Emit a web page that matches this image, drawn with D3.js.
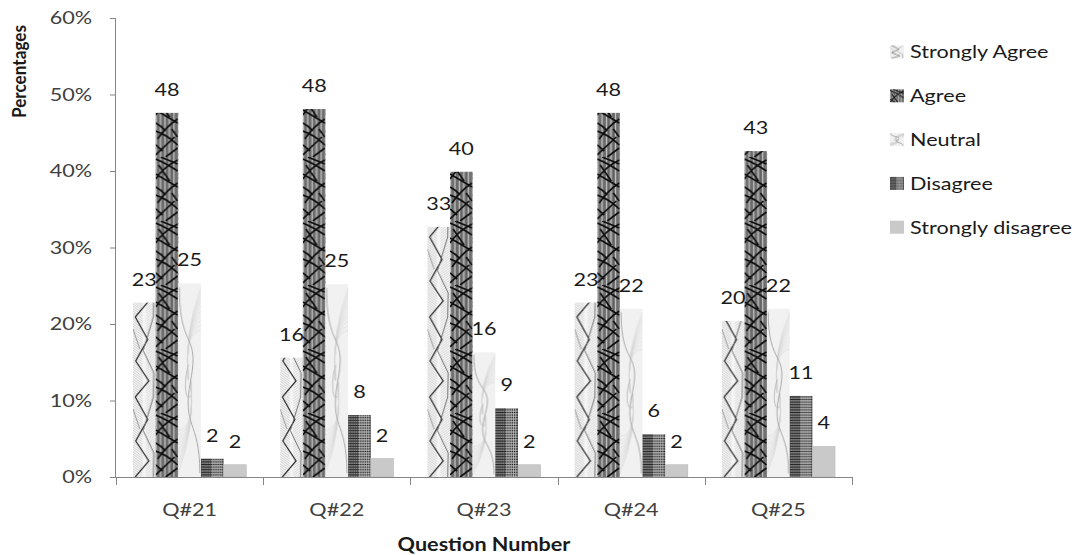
<!DOCTYPE html>
<html>
<head>
<meta charset="utf-8">
<script src="https://cdn.jsdelivr.net/npm/d3@7"></script>
<style>
  html, body { margin: 0; padding: 0; background: #fff; }
  svg { display: block; }
  text { font-family: Lato, "Open Sans", sans-serif; }
</style>
</head>
<body>
<svg id="chart" width="1084" height="555"></svg>
<script>
// ---- data ----
const categories = ["Q#21", "Q#22", "Q#23", "Q#24", "Q#25"];
const seriesNames = ["Strongly Agree", "Agree", "Neutral", "Disagree", "Strongly disagree"];
const stronglyAgree    = [22.8, 15.6, 32.7, 22.8, 20.4];
const agree            = [47.6, 48.1, 39.9, 47.6, 42.6];
const neutral          = [25.3, 25.2, 16.3, 22.0, 22.0];
const disagree         = [2.4, 8.1, 9.0, 5.6, 10.6];
const stronglyDisagree = [1.6, 2.4, 1.6, 1.6, 4.0];
const yTicks = [0, 10, 20, 30, 40, 50, 60];

const seriesValues = [stronglyAgree, agree, neutral, disagree, stronglyDisagree];

// ---- layout ----
const svg = d3.select("#chart");
const plot = { left: 116, right: 852, top: 18, bottom: 477 };
const SX = 1.2;      // horizontal text stretch seen in the reference
const FS = 18;       // base font size

const x = d3.scaleBand().domain(categories).range([plot.left, plot.right]).paddingInner(0).paddingOuter(0);
const xs = d3.scaleBand().domain(seriesNames).range([0, x.bandwidth()]).paddingInner(0).paddingOuter(0.75);
const y = d3.scaleLinear().domain([0, 60]).range([plot.bottom, plot.top]);

const defs = svg.append("defs");

// stretched horizontal text helper
function htext(parent, tx, ty, str, opts = {}) {
  return parent.append("text")
    .attr("transform", `translate(${tx},${ty}) scale(${SX},1)`)
    .attr("text-anchor", opts.anchor || "start")
    .attr("dy", opts.dy || null)
    .attr("font-size", opts.size || FS)
    .attr("font-weight", opts.weight || null)
    .attr("fill", opts.fill || "#1a1a1a")
    .text(str);
}

// ---- texture painters (tile coords) ----
function paintSA(g, w, h) {
  g.append("rect").attr("width", w).attr("height", h).attr("fill", "#f4f4f4");
  for (let yy = -10; yy < h + 10; yy += 2.4) {
    g.append("line").attr("x1", 0).attr("y1", yy).attr("x2", w * 0.42).attr("y2", yy + 7)
      .attr("stroke", "#a8a8a8").attr("stroke-width", 0.45);
    g.append("line").attr("x1", w * 0.58).attr("y1", yy + 7).attr("x2", w).attr("y2", yy)
      .attr("stroke", "#b8b8b8").attr("stroke-width", 0.45);
  }
  g.append("path").attr("d", `M${w*0.1},0 L${w*0.65},${h*0.28} L${w*0.12},${h*0.55} L${w*0.7},${h*0.8} L${w*0.1},${h}`)
    .attr("fill", "none").attr("stroke", "#2a2a2a").attr("stroke-width", 1.2);
  g.append("path").attr("d", `M${w*0.9},0 L${w*0.45},${h*0.42} L${w*0.92},${h*0.7} L${w*0.9},${h}`)
    .attr("fill", "none").attr("stroke", "#666").attr("stroke-width", 0.9);
  g.append("path").attr("d", `M0,${h*0.15} L${w*0.3},${h*0.4}`)
    .attr("fill", "none").attr("stroke", "#888").attr("stroke-width", 0.8);
}
function paintAgree(g, w, h) {
  g.append("rect").attr("width", w).attr("height", h).attr("fill", "#9c9c9c");
  const xsPos = [0.6, 1.7, 2.9, 3.8, 5.0, 6.1, 7.0, 8.3, 9.4, 10.4, 11.6, 12.7, 13.8, 14.9, 16.0, 17.2, 18.3, 19.4, 20.6, 21.8];
  xsPos.forEach((p, i) => {
    g.append("line").attr("x1", p * w / 22.6).attr("x2", p * w / 22.6).attr("y1", 0).attr("y2", h)
      .attr("stroke", i % 4 === 0 ? "#d2d2d2" : (i % 4 === 2 ? "#3a3a3a" : "#6a6a6a"))
      .attr("stroke-width", 0.8);
  });
  const u = w / 22.6;
  g.append("path").attr("d",
      `M0,2 Q${10*u},6 ${22*u},14 M${22*u},3 Q${8*u},10 0,22 M0,17 L${22*u},30 ` +
      `M${22*u},26 Q${10*u},34 ${2*u},46 M0,38 Q${12*u},42 ${22*u},52 M${19*u},44 L0,62 ` +
      `M${22*u},55 L${10*u},64 M${5*u},0 L${22*u},7 M0,30 Q${6*u},33 ${10*u},38 ` +
      `M${3*u},8 L${14*u},24 M${16*u},36 L${22*u},44 M0,52 L${7*u},58`)
    .attr("fill", "none").attr("stroke", "#0e0e0e").attr("stroke-width", 1.7);
}
function paintNeutral(g, w, h) {
  g.append("rect").attr("width", w).attr("height", h).attr("fill", "#f1f1f1");
  for (let i = 0; i < 10; i++) {
    const t = i / 9;
    g.append("path")
      .attr("d", `M${w},${h*0.02 + t*h*0.22} Q${w*0.25},${h*0.25} ${w*0.45},${h*0.5}`)
      .attr("fill", "none").attr("stroke", "#d2d2d2").attr("stroke-width", 0.5);
    g.append("path")
      .attr("d", `M0,${h*0.98 - t*h*0.22} Q${w*0.75},${h*0.75} ${w*0.55},${h*0.5}`)
      .attr("fill", "none").attr("stroke", "#d2d2d2").attr("stroke-width", 0.5);
  }
  g.append("path")
    .attr("d", `M${w*0.05},${h*0.02} C${w*0.05},${h*0.35} ${w*0.95},${h*0.25} ${w*0.55},${h*0.5} C${w*0.15},${h*0.75} ${w*0.95},${h*0.7} ${w*0.95},${h*0.98}`)
    .attr("fill", "none").attr("stroke", "#a0a0a0").attr("stroke-width", 0.9);
  g.append("path")
    .attr("d", `M${w*0.45},${h*0.42} C${w*0.2},${h*0.52} ${w*0.35},${h*0.62} ${w*0.55},${h*0.58}`)
    .attr("fill", "none").attr("stroke", "#b0b0b0").attr("stroke-width", 0.8);
}
function paintDisagree(g, w, h) {
  g.append("rect").attr("width", w).attr("height", h).attr("fill", "#8f8f8f");
  for (let yy = 0.5; yy < h; yy += 2.6) {
    g.append("line").attr("x1", 0).attr("x2", w).attr("y1", yy).attr("y2", yy)
      .attr("stroke", "#1e1e1e").attr("stroke-width", 1);
  }
  for (let xx = 0.6; xx < w; xx += 2.2) {
    g.append("line").attr("x1", xx).attr("x2", xx).attr("y1", 0).attr("y2", h)
      .attr("stroke", (Math.round(xx) % 2) ? "#3a3a3a" : "#d0d0d0").attr("stroke-width", 0.7);
  }
}
function paintSD(g, w, h) {
  g.append("rect").attr("width", w).attr("height", h).attr("fill", "#c9c9c9");
}
const painters = [paintSA, paintAgree, paintNeutral, paintDisagree, paintSD];
const tileH = [80, 64, null, 13, 10];

// ---- bars data ----
const bars = [];
categories.forEach((c, ci) => {
  seriesNames.forEach((s, si) => {
    bars.push({ cat: c, ci, series: s, si, value: seriesValues[si][ci] });
  });
});

bars.forEach(b => {
  const bx = x(b.cat) + xs(b.series);
  const bw = xs.bandwidth();
  const by = y(b.value);
  const bh = y(0) - by;
  const th = tileH[b.si] === null ? bh : tileH[b.si];
  const pat = defs.append("pattern")
    .attr("id", `p${b.si}_${b.ci}`)
    .attr("patternUnits", "userSpaceOnUse")
    .attr("x", bx).attr("y", b.si === 2 ? by : y(0) - Math.ceil(bh / th) * th)
    .attr("width", bw).attr("height", th);
  painters[b.si](pat.append("g"), bw, th);
  b.x = bx; b.w = bw; b.y = by; b.h = bh;
});

// ---- bars ----
svg.append("g").selectAll("rect").data(bars).join("rect")
  .attr("x", d => d.x).attr("y", d => d.y)
  .attr("width", d => d.w).attr("height", d => d.h)
  .attr("fill", d => `url(#p${d.si}_${d.ci})`)
  .attr("stroke", d => d.si === 4 ? "#b8b8b8" : "none")
  .attr("stroke-width", 0.6);

// ---- data labels ----
const labelG = svg.append("g");
bars.forEach(d => {
  htext(labelG, d.x + d.w / 2, d.y - 17, Math.round(d.value), { anchor: "middle", fill: "#1a1a1a" });
});

// ---- y axis ----
const yAxis = svg.append("g").attr("transform", `translate(${plot.left},0)`)
  .call(d3.axisLeft(y).tickValues(yTicks).tickSize(6).tickFormat(""));
yAxis.select(".domain").attr("stroke", "#868686").attr("d", `M-0.5,${plot.top}V${plot.bottom}`);
yAxis.selectAll(".tick line").attr("stroke", "#868686");
yAxis.selectAll(".tick text").remove();
yTicks.forEach(t => {
  htext(svg, 92, y(t), t + "%", { anchor: "end", dy: "0.36em", fill: "#404040" });
});

// ---- x axis ----
const xAxis = svg.append("g").attr("transform", `translate(0,${plot.bottom})`)
  .call(d3.axisBottom(x).tickSize(0).tickFormat(""));
xAxis.select(".domain").attr("stroke", "#868686").attr("d", `M${plot.left},0.5H${plot.right}`);
xAxis.selectAll(".tick text").remove();
categories.forEach(c => {
  htext(svg, x(c) + x.bandwidth() / 2, 510, c, { anchor: "middle", dy: "0.36em", fill: "#404040" });
});
const bounds = categories.map(c => x(c)).concat([x(categories[categories.length - 1]) + x.bandwidth()]);
xAxis.append("g").selectAll("line").data(bounds).join("line")
  .attr("x1", d => Math.round(d) + 0.5).attr("x2", d => Math.round(d) + 0.5)
  .attr("y1", 0).attr("y2", 8).attr("stroke", "#868686");

// ---- axis titles ----
htext(svg, (plot.left + plot.right) / 2, 551, "Question Number", { anchor: "middle", weight: "bold" });
svg.append("text").attr("transform", "translate(26,118) rotate(-90)")
  .attr("text-anchor", "start").attr("font-size", 18).attr("font-weight", "bold").attr("fill", "#1a1a1a")
  .attr("textLength", 93).attr("lengthAdjust", "spacingAndGlyphs")
  .text("Percentages");

// ---- legend ----
const legend = svg.append("g");
seriesNames.forEach((s, i) => {
  const cy = 52 + i * 43.8;
  const pat = defs.append("pattern").attr("id", `leg${i}`)
    .attr("patternUnits", "userSpaceOnUse")
    .attr("x", 890).attr("y", cy - 6.5).attr("width", 14).attr("height", 13);
  const g = pat.append("g").attr("transform", i === 2 ? null : "scale(0.6)");
  painters[i](g, i === 2 ? 14 : 14 / 0.6, i === 2 ? 13 : 13 / 0.6);
  legend.append("rect").attr("x", 890).attr("y", cy - 6.5).attr("width", 14).attr("height", 13)
    .attr("fill", `url(#leg${i})`).attr("opacity", i === 0 ? 0.7 : 1);
  htext(legend, 910, cy, s, { dy: "0.36em" });
});
</script>
</body>
</html>
